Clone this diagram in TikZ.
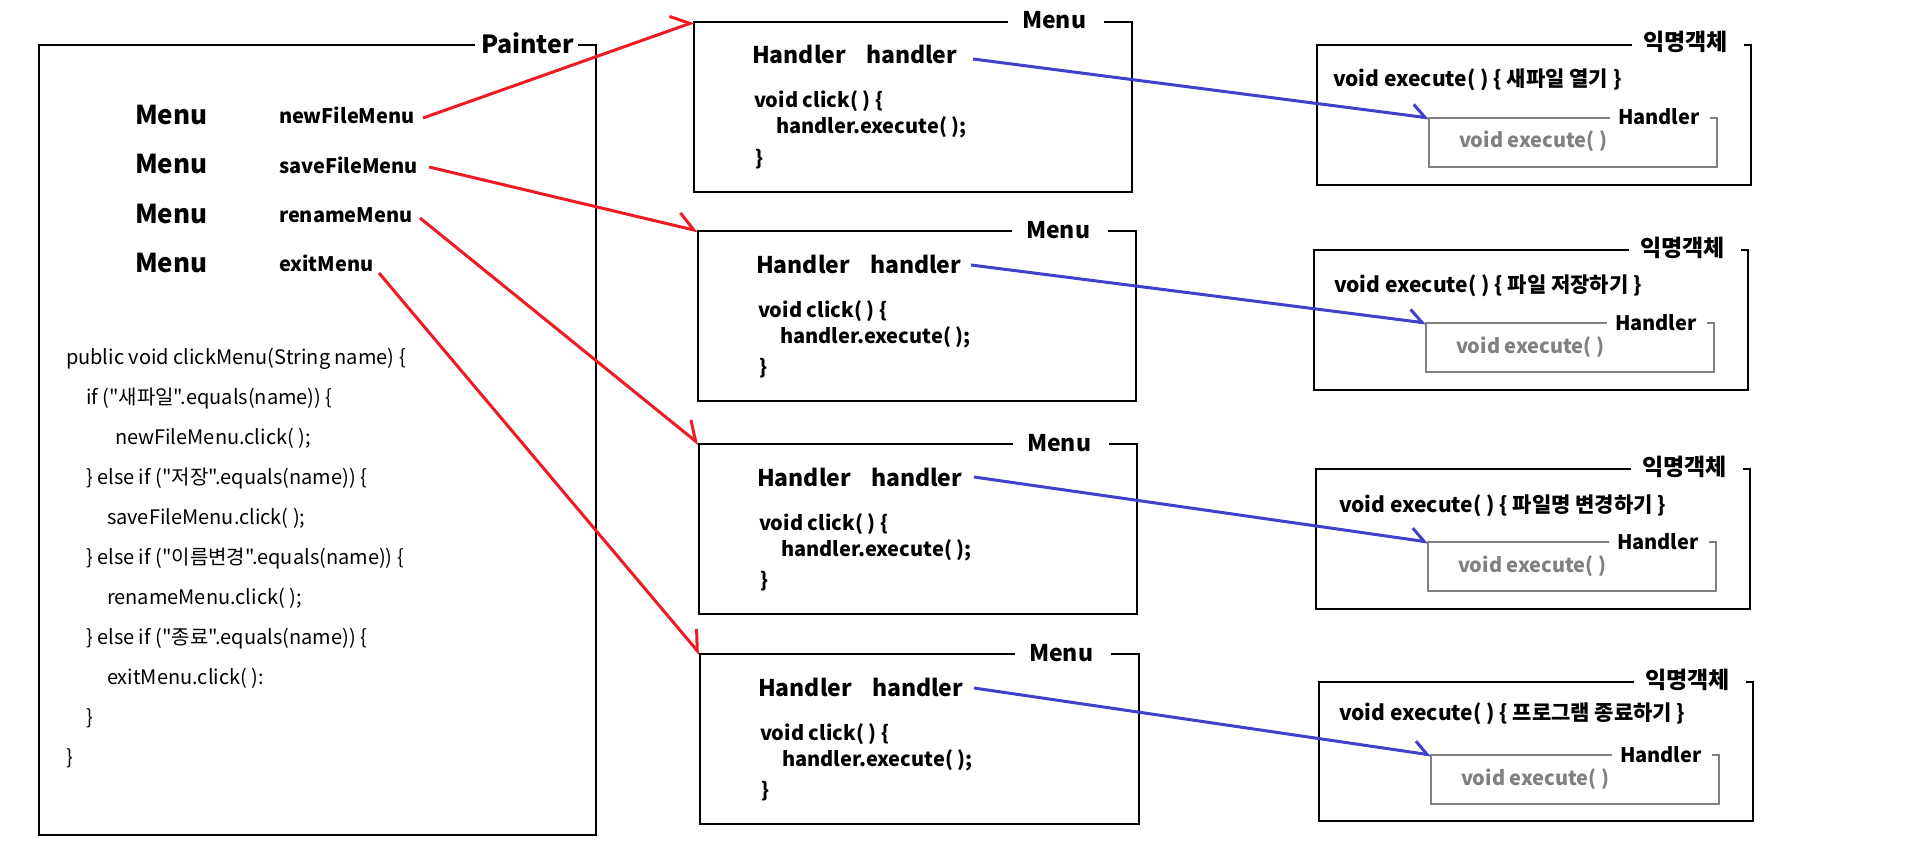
\documentclass[tikz,border=0pt]{standalone}
\usepackage{fontspec}
\setmainfont{Noto Sans CJK KR}
\newfontfamily\codefont{Noto Sans CJK KR}
\usetikzlibrary{arrows.meta}
\definecolor{redline}{RGB}{237,28,36}
\definecolor{blueline}{RGB}{64,64,204}
\definecolor{innergray}{RGB}{128,128,128}
\newcommand\TFrame[7]{\draw[#1] (#6,#3) -- (#2,#3) -- (#2,#5) -- (#4,#5) -- (#4,#3) -- (#7,#3);}
\newcommand\MenuBox[5]{%
  \coordinate (#1) at (#2,#3);
  \TFrame{frame}{#2}{#3}{#4}{#5}{#4-124}{#4-28}
  \node[mtitle] (#1t) at (#4-110,#3+7) {Menu};
  \node[hh] (#1h) at (#2+58,#3+42) {Handler};
  \node[hh] (#1v) at (#2+172,#3+42) {handler};
  \node[clk] (#1c) at (#2+60,#3+86) {void click( ) \{};
  \node[clk] (#1e) at (#2+82,#3+112) {handler.execute( );};
  \node[clk] (#1b) at (#2+61,#3+143) {\}};
}
\newcommand\AnonBox[8]{%
  \TFrame{frame}{#2}{#3}{#4}{#5}{#4-119}{#4-7}
  \node[atitle] (#1t) at (#4-108,#3+6) {익명객체};
  \node[exe] (#1x) at (#6,#3+#7) {#8};
  \coordinate (#1i) at (#2+112,#3+73);
  \TFrame{iframe}{#2+112}{#3+73}{#4-34}{#3+122}{#4-141}{#4-41}
  \node[htitle] (#1ht) at (#4-133,#3+80) {Handler};
  \node[gexe] (#1g) at (#2+142,#3+103) {void execute( )};
}
\begin{document}
\begin{tikzpicture}[x=1pt,y=-1pt,
  frame/.style={draw=black,line width=1.5pt},
  iframe/.style={draw=innergray,line width=1.5pt},
  txt/.style={anchor=base west,inner sep=0pt,outer sep=0pt},
  ptitle/.style={txt,font=\bfseries\fontsize{25}{29}\selectfont},
  mtype/.style={txt,font=\bfseries\fontsize{26}{30}\selectfont},
  mvar/.style={txt,font=\bfseries\fontsize{20}{24}\selectfont},
  code/.style={txt,font=\codefont\fontsize{20}{24}\selectfont},
  mtitle/.style={txt,font=\bfseries\fontsize{23}{27}\selectfont},
  hh/.style={txt,font=\bfseries\fontsize{23}{27}\selectfont},
  clk/.style={txt,font=\bfseries\fontsize{20}{24}\selectfont},
  exe/.style={txt,font=\bfseries\fontsize{21}{25}\selectfont},
  atitle/.style={txt,font=\bfseries\fontsize{23}{27}\selectfont},
  htitle/.style={txt,font=\bfseries\fontsize{20}{24}\selectfont},
  gexe/.style={txt,text=innergray,font=\bfseries\fontsize{20}{24}\selectfont},
  redarrow/.style={draw=redline,line width=3pt,-{Straight Barb[harpoon,length=17pt,width=27pt]}},
  bluearrow/.style={draw=blueline,line width=3pt,-{Straight Barb[harpoon,length=13pt,width=23pt]}},
]
\useasboundingbox (0,0) rectangle (1906,856);
\fill[white] (0,0) rectangle (1906,856);

% Painter
\TFrame{frame}{39}{45}{596}{835}{475}{578}
\node[ptitle] (painter) at (481,54) {Painter};
\node[mtype] (t1) at (135,125) {Menu};
\node[mtype] (t2) at (135,174) {Menu};
\node[mtype] (t3) at (135,223) {Menu};
\node[mtype] (t4) at (135,272) {Menu};
\node[mvar] (v1) at (279,124) {newFileMenu};
\node[mvar] (v2) at (279,173) {saveFileMenu};
\node[mvar] (v3) at (279,222) {renameMenu};
\node[mvar] (v4) at (279,271) {exitMenu};
\node[code] (c1) at (66,364) {public void clickMenu(String name) \{};
\node[code] (c2) at (86,404) {if ("새파일".equals(name)) \{};
\node[code] (c3) at (115,444) {newFileMenu.click( );};
\node[code] (c4) at (86,484) {\} else if ("저장".equals(name)) \{};
\node[code] (c5) at (107,524) {saveFileMenu.click( );};
\node[code] (c6) at (86,564) {\} else if ("이름변경".equals(name)) \{};
\node[code] (c7) at (107,604) {renameMenu.click( );};
\node[code] (c8) at (86,644) {\} else if ("종료".equals(name)) \{};
\node[code] (c9) at (107,684) {exitMenu.click( ):};
\node[code] (c10) at (86,724) {\}};
\node[code] (c11) at (66,764) {\}};

% Menu objects
\MenuBox{m1}{694}{22}{1132}{192}
\MenuBox{m2}{698}{231}{1136}{401}
\MenuBox{m3}{699}{444}{1137}{614}
\MenuBox{m4}{700}{654}{1139}{824}

% anonymous objects
\AnonBox{a1}{1317}{45}{1751}{185}{1333}{42}{void execute( ) \{ 새파일 열기 \}}
\AnonBox{a2}{1314}{250}{1748}{390}{1334}{42}{void execute( ) \{ 파일 저장하기 \}}
\AnonBox{a3}{1316}{469}{1750}{609}{1339}{43}{void execute( ) \{ 파일명 변경하기 \}}
\AnonBox{a4}{1319}{682}{1753}{821}{1339}{38}{void execute( ) \{ 프로그램 종료하기 \}}

% connector start points
\coordinate (r1s) at (423,118);
\coordinate (r2s) at (429,167);
\coordinate (r3s) at (420,218);
\coordinate (r4s) at (379,273);
\coordinate (b1s) at (973,59);
\coordinate (b2s) at (971,265);
\coordinate (b3s) at (974,477);
\coordinate (b4s) at (974,688);

\draw[redarrow] (r1s) -- (m1);
\draw[redarrow] (r2s) -- (m2);
\draw[redarrow] (r3s) -- (m3);
\draw[redarrow] (r4s) -- (m4);
\draw[bluearrow] (b1s) -- (a1i);
\draw[bluearrow] (b2s) -- (a2i);
\draw[bluearrow] (b3s) -- (a3i);
\draw[bluearrow] (b4s) -- (a4i);
\end{tikzpicture}
\end{document}
